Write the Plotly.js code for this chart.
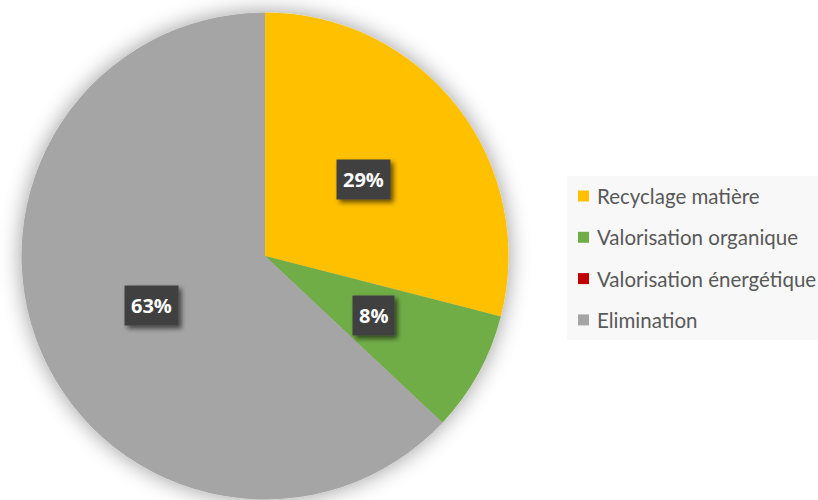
<!DOCTYPE html>
<html>
<head>
<meta charset="utf-8">
<script src="https://cdn.plot.ly/plotly-3.0.1.min.js"></script>
<style>
html,body{margin:0;padding:0;background:#fff;}
#chart{width:818px;height:500px;}
</style>
</head>
<body>
<div id="chart"></div>
<script>
const categories = ["Recyclage matière", "Valorisation organique", "Valorisation énergétique", "Elimination"];
const values = [29, 8, 0, 63];
const colors = ["#FFC000", "#70AD47", "#C00000", "#A5A5A5"];

const W = 818, H = 500;
const domX = [0.0263, 0.6216];
const domY = [0.0, 0.976];

const total = values.reduce((a, b) => a + b, 0);
const cx = (domX[0] + domX[1]) / 2;
const cy = (domY[0] + domY[1]) / 2;
const rPx = Math.min((domX[1] - domX[0]) * W, (domY[1] - domY[0]) * H) / 2;
const labelR = 0.51 * rPx;

const annotations = [];
let cum = 0;
values.forEach((v, i) => {
  const mid = (cum + v / 2) / total * 2 * Math.PI;
  cum += v;
  if (v <= 0) return;
  annotations.push({
    x: cx + labelR * Math.sin(mid) / W,
    y: cy + labelR * Math.cos(mid) / H,
    xref: "paper", yref: "paper",
    xanchor: "center", yanchor: "middle",
    text: "<b>" + Math.round(v / total * 100) + "%</b>",
    showarrow: false,
    font: {family: "Open Sans, sans-serif", size: 20, color: "#ffffff"},
    bgcolor: "#404040",
    borderpad: 6
  });
});

// legend box and entries
const legX0 = 567 / W, legY0 = 1 - 340 / H, legY1 = 1 - 176 / H;
const shapes = [{
  type: "rect", xref: "paper", yref: "paper",
  x0: legX0, x1: 1.01, y0: legY0, y1: legY1,
  fillcolor: "#f8f8f8", line: {width: 0}, layer: "below"
}];
const rowStep = 41.3;
categories.forEach((c, i) => {
  const yPx = 196 + i * rowStep;
  shapes.push({
    type: "rect", xref: "paper", yref: "paper",
    x0: 578 / W, x1: 589 / W,
    y0: 1 - (yPx + 5.5) / H, y1: 1 - (yPx - 5.5) / H,
    fillcolor: colors[i], line: {width: 0}
  });
  annotations.push({
    x: 595 / W, y: 1 - yPx / H, xref: "paper", yref: "paper",
    xanchor: "left", yanchor: "middle",
    text: c, showarrow: false,
    font: {family: "Lato, sans-serif", size: 20.5, color: "#595959"}
  });
});

const data = [{
  type: "pie",
  labels: categories,
  values: values,
  sort: false,
  direction: "clockwise",
  rotation: 0,
  marker: {colors: colors, line: {width: 0}},
  textinfo: "none",
  hoverinfo: "label+percent",
  domain: {x: domX, y: domY},
  showlegend: false
}];

const layout = {
  width: W, height: H,
  margin: {l: 0, r: 0, t: 0, b: 0},
  paper_bgcolor: "#ffffff",
  showlegend: false,
  annotations: annotations,
  shapes: shapes
};

Plotly.newPlot("chart", data, layout, {displayModeBar: false, staticPlot: true}).then(() => {
  const NS = "http://www.w3.org/2000/svg";
  const svg = document.querySelector("#chart svg.main-svg");
  const defs = document.createElementNS(NS, "defs");
  defs.innerHTML =
    '<filter id="pieGlow" x="-20%" y="-20%" width="140%" height="140%">' +
    '<feGaussianBlur in="SourceAlpha" stdDeviation="11"/>' +
    '<feComponentTransfer><feFuncA type="linear" slope="0.4"/></feComponentTransfer>' +
    '<feMerge><feMergeNode/><feMergeNode in="SourceGraphic"/></feMerge></filter>' +
    '<filter id="boxShadow" x="-30%" y="-30%" width="160%" height="160%">' +
    '<feGaussianBlur in="SourceAlpha" stdDeviation="2.5"/>' +
    '<feOffset dx="3" dy="3"/>' +
    '<feComponentTransfer><feFuncA type="linear" slope="0.6"/></feComponentTransfer>' +
    '<feMerge><feMergeNode/><feMergeNode in="SourceGraphic"/></feMerge></filter>';
  svg.insertBefore(defs, svg.firstChild);
  const pl = document.querySelector("#chart .pielayer");
  if (pl) pl.setAttribute("filter", "url(#pieGlow)");
  document.querySelectorAll("#chart .annotation").forEach((g) => {
    if (/%$/.test(g.textContent)) {
      const bg = g.querySelector("rect.bg");
      if (bg) bg.setAttribute("filter", "url(#boxShadow)");
    }
  });
});
</script>
</body>
</html>
